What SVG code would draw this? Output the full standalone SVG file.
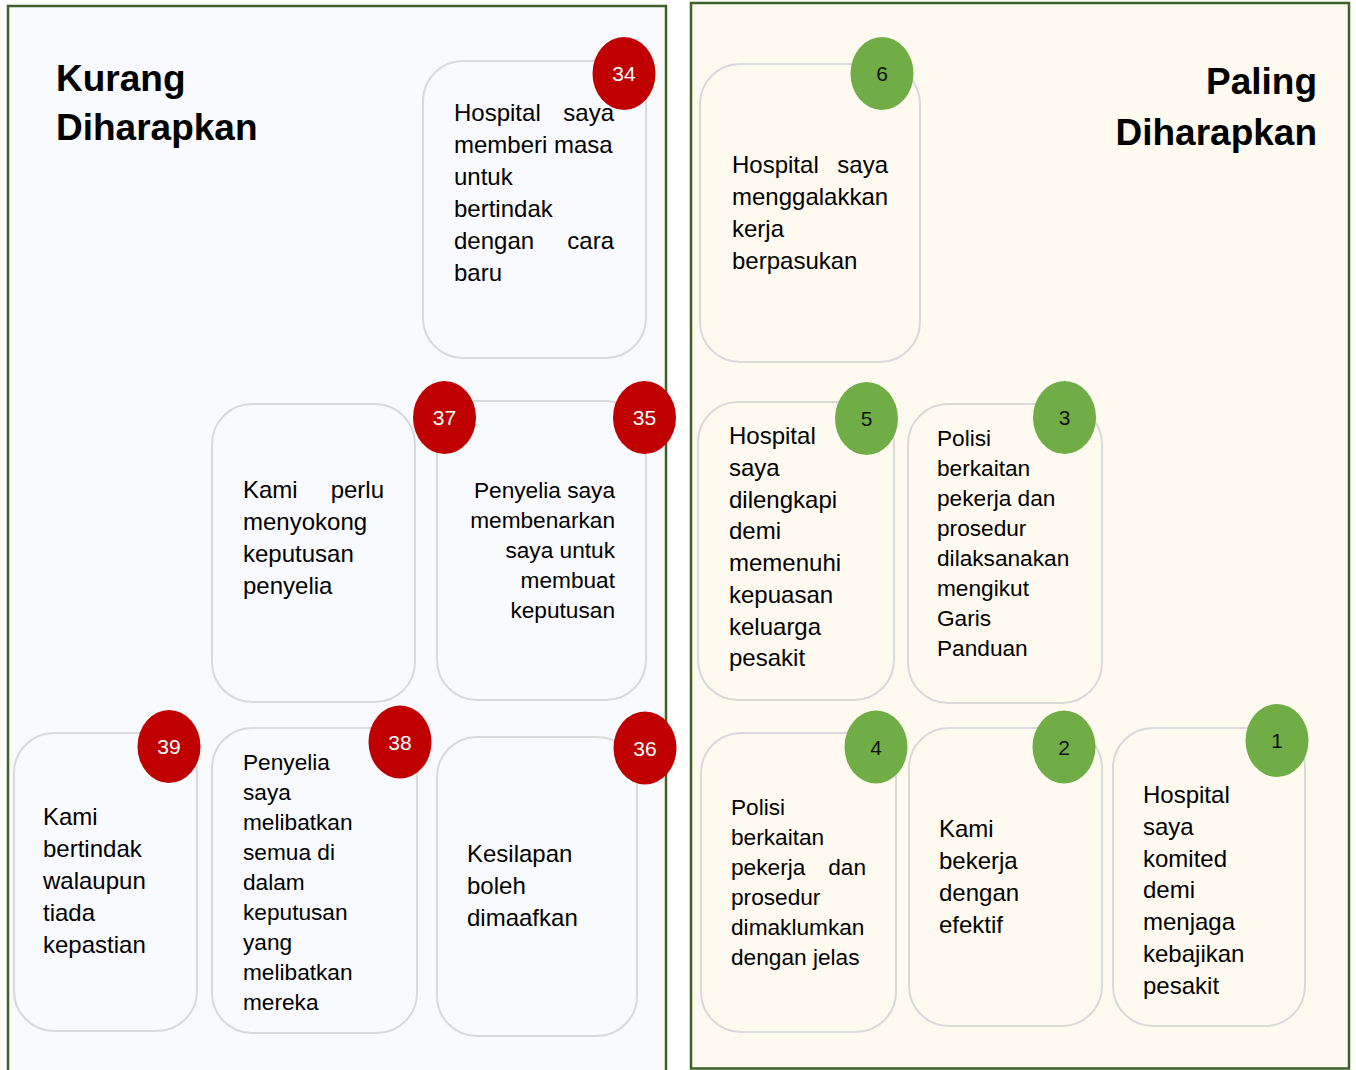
<svg xmlns="http://www.w3.org/2000/svg" width="1356" height="1070" viewBox="0 0 1356 1070">
<style>
.panel{stroke:#3e6129;stroke-width:2.5}
.card{fill:none;stroke:#d9d9d9;stroke-width:2}
.t{font-family:"Liberation Sans",Arial,sans-serif;fill:#000}
.l{font-size:24px}
.s{font-size:22.67px}
.title{font-family:"Liberation Sans",Arial,sans-serif;font-size:37px;font-weight:bold;fill:#000}
.red{fill:#c00000}
.green{fill:#70ad47}
.nr{font-family:"Liberation Sans",Arial,sans-serif;font-size:21px;fill:#fff;text-anchor:middle}
.ng{font-family:"Liberation Sans",Arial,sans-serif;font-size:21px;fill:#111;text-anchor:middle}
.e{text-anchor:end}
</style>
<rect width="1356" height="1070" fill="#ffffff"/>
<g id="panel-kurang">
<rect class="panel" x="8" y="6" width="658" height="1080" fill="#f9fafd"/>
<text class="title" x="56" y="91">Kurang</text>
<text class="title" x="56" y="140">Diharapkan</text>
</g>
<g id="panel-paling">
<rect class="panel" x="691" y="3" width="658" height="1065.5" fill="#fffaf0"/>
<text class="title e" x="1317" y="94">Paling</text>
<text class="title e" x="1317" y="145">Diharapkan</text>
</g>
<g id="connectors"/>
<g id="node-34">
<rect class="card" x="423" y="61" width="223" height="297" rx="40"/>
<text class="t l" x="454" y="121">Hospital</text>
<text class="t l e" x="614" y="121">saya</text>
<text class="t l" x="454"><tspan x="454" y="153">memberi masa</tspan><tspan x="454" y="185">untuk</tspan><tspan x="454" y="217">bertindak</tspan></text>
<text class="t l" x="454" y="249">dengan</text>
<text class="t l e" x="614" y="249">cara</text>
<text class="t l" x="454" y="281">baru</text>
<ellipse class="red" cx="624" cy="73.5" rx="31.5" ry="36.5"/>
<text class="nr" x="624" y="81">34</text>
</g>
<g id="node-35">
<rect class="card" x="437" y="401" width="209" height="299" rx="40"/>
<text class="t s e"><tspan x="615" y="498">Penyelia saya</tspan><tspan x="615" y="528">membenarkan</tspan><tspan x="615" y="558">saya untuk</tspan><tspan x="615" y="588">membuat</tspan><tspan x="615" y="618">keputusan</tspan></text>
<ellipse class="red" cx="644.5" cy="417.5" rx="31.5" ry="36.5"/>
<text class="nr" x="644.5" y="425">35</text>
</g>
<g id="node-37">
<rect class="card" x="212" y="404" width="203" height="298" rx="40"/>
<text class="t l" x="243" y="498">Kami</text>
<text class="t l e" x="384" y="498">perlu</text>
<text class="t l"><tspan x="243" y="530">menyokong</tspan><tspan x="243" y="562">keputusan</tspan><tspan x="243" y="594">penyelia</tspan></text>
<ellipse class="red" cx="444.5" cy="417.5" rx="31.5" ry="36.5"/>
<text class="nr" x="444.5" y="425">37</text>
</g>
<g id="node-39">
<rect class="card" x="14" y="733" width="183" height="298" rx="40"/>
<text class="t l"><tspan x="43" y="825">Kami</tspan><tspan x="43" y="857">bertindak</tspan><tspan x="43" y="889">walaupun</tspan><tspan x="43" y="921">tiada</tspan><tspan x="43" y="953">kepastian</tspan></text>
<ellipse class="red" cx="169" cy="746.5" rx="31.5" ry="36.5"/>
<text class="nr" x="169" y="754">39</text>
</g>
<g id="node-38">
<rect class="card" x="212" y="728" width="205" height="305" rx="40"/>
<text class="t s"><tspan x="243" y="770">Penyelia</tspan><tspan x="243" y="800">saya</tspan><tspan x="243" y="830">melibatkan</tspan><tspan x="243" y="860">semua di</tspan><tspan x="243" y="890">dalam</tspan><tspan x="243" y="920">keputusan</tspan><tspan x="243" y="950">yang</tspan><tspan x="243" y="980">melibatkan</tspan><tspan x="243" y="1010">mereka</tspan></text>
<ellipse class="red" cx="400" cy="742" rx="31.5" ry="36.5"/>
<text class="nr" x="400" y="749.5">38</text>
</g>
<g id="node-36">
<rect class="card" x="437" y="737" width="200" height="299" rx="40"/>
<text class="t l"><tspan x="467" y="862">Kesilapan</tspan><tspan x="467" y="894">boleh</tspan><tspan x="467" y="926">dimaafkan</tspan></text>
<ellipse class="red" cx="645" cy="748" rx="31.5" ry="36.5"/>
<text class="nr" x="645" y="755.5">36</text>
</g>
<g id="node-6">
<rect class="card" x="700" y="64" width="220" height="298" rx="40"/>
<text class="t l" x="732" y="173">Hospital</text>
<text class="t l e" x="888" y="173">saya</text>
<text class="t l"><tspan x="732" y="205">menggalakkan</tspan><tspan x="732" y="237">kerja</tspan><tspan x="732" y="269">berpasukan</tspan></text>
<ellipse class="green" cx="882" cy="73.5" rx="31.5" ry="36.5"/>
<text class="ng" x="882" y="81">6</text>
</g>
<g id="node-5">
<rect class="card" x="698" y="402" width="196" height="298" rx="40"/>
<text class="t l"><tspan x="729" y="444">Hospital</tspan><tspan x="729" y="475.75">saya</tspan><tspan x="729" y="507.5">dilengkapi</tspan><tspan x="729" y="539.25">demi</tspan><tspan x="729" y="571">memenuhi</tspan><tspan x="729" y="602.75">kepuasan</tspan><tspan x="729" y="634.5">keluarga</tspan><tspan x="729" y="666.25">pesakit</tspan></text>
<ellipse class="green" cx="866.5" cy="418.5" rx="31.5" ry="36.5"/>
<text class="ng" x="866.5" y="426">5</text>
</g>
<g id="node-3">
<rect class="card" x="908" y="404" width="194" height="299" rx="40"/>
<text class="t s"><tspan x="937" y="446">Polisi</tspan><tspan x="937" y="476">berkaitan</tspan><tspan x="937" y="506">pekerja dan</tspan><tspan x="937" y="536">prosedur</tspan><tspan x="937" y="566">dilaksanakan</tspan><tspan x="937" y="596">mengikut</tspan><tspan x="937" y="626">Garis</tspan><tspan x="937" y="656">Panduan</tspan></text>
<ellipse class="green" cx="1064.5" cy="417.5" rx="31.5" ry="36.5"/>
<text class="ng" x="1064.5" y="425">3</text>
</g>
<g id="node-4">
<rect class="card" x="701" y="733" width="195" height="299" rx="40"/>
<text class="t s"><tspan x="731" y="815">Polisi</tspan><tspan x="731" y="845">berkaitan</tspan></text>
<text class="t s" x="731" y="875">pekerja</text>
<text class="t s e" x="866" y="875">dan</text>
<text class="t s"><tspan x="731" y="905">prosedur</tspan><tspan x="731" y="935">dimaklumkan</tspan><tspan x="731" y="965">dengan jelas</tspan></text>
<ellipse class="green" cx="876" cy="747" rx="31.5" ry="36.5"/>
<text class="ng" x="876" y="754.5">4</text>
</g>
<g id="node-2">
<rect class="card" x="909" y="728" width="193" height="298" rx="40"/>
<text class="t l"><tspan x="939" y="837">Kami</tspan><tspan x="939" y="869">bekerja</tspan><tspan x="939" y="901">dengan</tspan><tspan x="939" y="933">efektif</tspan></text>
<ellipse class="green" cx="1064" cy="747" rx="31.5" ry="36.5"/>
<text class="ng" x="1064" y="754.5">2</text>
</g>
<g id="node-1">
<rect class="card" x="1113" y="728" width="192" height="298" rx="40"/>
<text class="t l"><tspan x="1143" y="803">Hospital</tspan><tspan x="1143" y="834.75">saya</tspan><tspan x="1143" y="866.5">komited</tspan><tspan x="1143" y="898.25">demi</tspan><tspan x="1143" y="930">menjaga</tspan><tspan x="1143" y="961.75">kebajikan</tspan><tspan x="1143" y="993.5">pesakit</tspan></text>
<ellipse class="green" cx="1277" cy="740.5" rx="31.5" ry="36.5"/>
<text class="ng" x="1277" y="748">1</text>
</g>
</svg>
